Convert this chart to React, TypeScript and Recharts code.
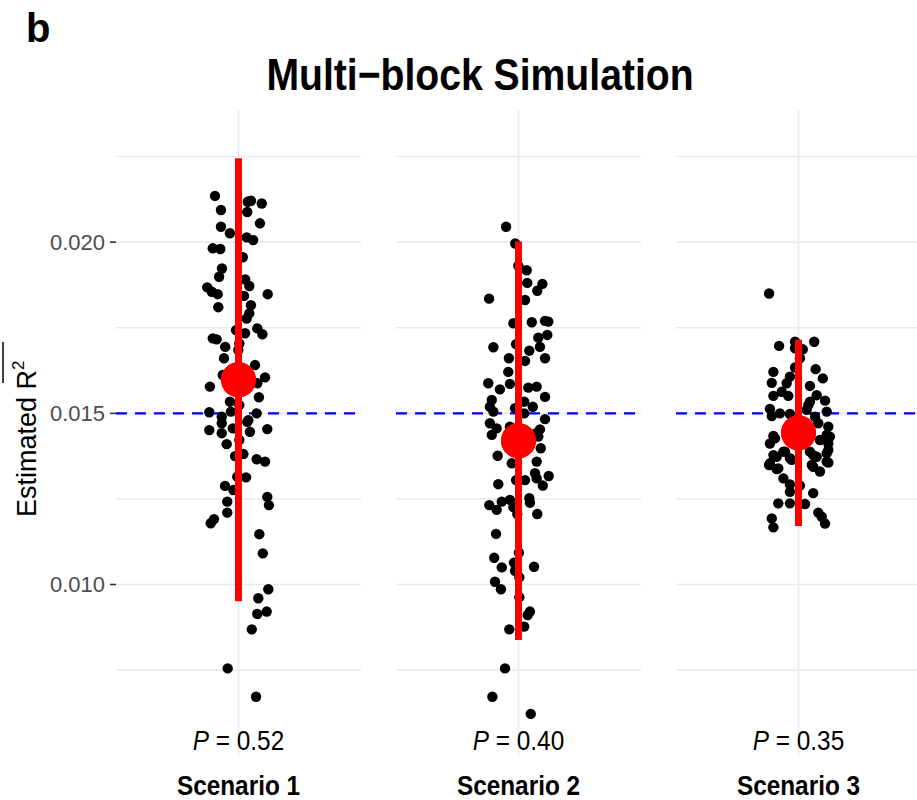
import React from 'react';
import { ScatterChart, Scatter, XAxis, YAxis, CartesianGrid, ReferenceLine, ErrorBar } from 'recharts';

// Facet labels and annotations
const scenarios = ['Scenario 1', 'Scenario 2', 'Scenario 3'];
const pValues = ['0.52', '0.40', '0.35'];

// Mean estimate and half-width of the interval for each scenario
const meanValues = [0.01598, 0.0142, 0.01443];
const intervalHalfWidths = [0.00647, 0.00582, 0.00272];

// True value (dashed line)
const trueValue = 0.015;

// Axis ticks, grid lines and range
const yTicks = [0.01, 0.015, 0.02];
const yGridValues = [0.0075, 0.01, 0.0125, 0.015, 0.0175, 0.02, 0.0225];
const xGridValues = [0];
const yDomain: [number, number] = [0.00502, 0.02386];
const xDomain: [number, number] = [-0.6, 0.6];
const pLabelLevel = 0.00546;

// Replicate estimates per scenario: [horizontal jitter, estimated value]
const scenario1Points: [number, number][] = [
  [-0.115, 0.02135], [0.045, 0.02118], [0.061, 0.02121], [0.114, 0.02113], [-0.086, 0.02094], [0.043, 0.02088],
  [0.105, 0.02055], [-0.086, 0.02045], [-0.042, 0.02026], [0.04, 0.02014], [0.072, 0.02006], [-0.126, 0.01982],
  [-0.089, 0.0198], [0.021, 0.01956], [-0.081, 0.01923], [-0.095, 0.01899], [0.033, 0.01891], [0.053, 0.01872],
  [-0.153, 0.01868], [-0.131, 0.01855], [-0.102, 0.01848], [0.143, 0.01848], [0.027, 0.01843], [-0.099, 0.0181],
  [0.061, 0.01816], [0.053, 0.01792], [0.04, 0.01777], [0.092, 0.01748], [0.117, 0.01731], [0.032, 0.01734],
  [-0.012, 0.01743], [-0.126, 0.01719], [-0.107, 0.01716], [-0.065, 0.01694], [0.004, 0.01704], [-0.001, 0.01685],
  [-0.071, 0.01661], [0.081, 0.01641], [-0.077, 0.01612], [0.13, 0.01605], [0.092, 0.01588], [-0.14, 0.01578],
  [0.1, 0.01547], [-0.042, 0.01534], [0.004, 0.01524], [-0.143, 0.01503], [0.089, 0.015], [-0.082, 0.0149],
  [-0.037, 0.01505], [0.048, 0.0148], [-0.082, 0.01471], [-0.143, 0.01451], [-0.082, 0.01442], [-0.028, 0.01456],
  [0.056, 0.01446], [0.141, 0.01454], [0.043, 0.01475], [-0.058, 0.0141], [0.004, 0.01422], [0.024, 0.01381],
  [-0.017, 0.01375], [0.089, 0.01366], [0.13, 0.01359], [-0.006, 0.01315], [0.037, 0.01313], [-0.066, 0.01288],
  [-0.025, 0.01276], [0.141, 0.01256], [0.149, 0.01232], [-0.055, 0.01242], [-0.055, 0.0121], [-0.12, 0.01191],
  [-0.136, 0.01179], [0.102, 0.01147], [0.119, 0.01091], [0.146, 0.00986], [0.097, 0.0096], [0.092, 0.00914],
  [0.138, 0.00921], [0.065, 0.00869], [-0.053, 0.00755], [0.086, 0.00672],
];

const scenario2Points: [number, number][] = [
  [-0.061, 0.02045], [-0.016, 0.01996], [-0.001, 0.01931], [0.04, 0.01918], [0.043, 0.01881], [0.117, 0.01878],
  [0.092, 0.01858], [-0.144, 0.01835], [0.032, 0.01831], [-0.025, 0.01763], [0.065, 0.01766], [0.13, 0.0177],
  [0.146, 0.01768], [0.141, 0.01729], [0.097, 0.01721], [0.105, 0.01694], [-0.123, 0.01693], [-0.012, 0.01702],
  [0.053, 0.01683], [-0.047, 0.01661], [0.032, 0.01653], [0.13, 0.01661], [-0.05, 0.01621], [-0.148, 0.01588],
  [-0.091, 0.0157], [-0.042, 0.01586], [0.048, 0.01575], [0.089, 0.01578], [0.13, 0.01548], [-0.131, 0.01539],
  [-0.14, 0.01519], [-0.123, 0.01505], [-0.017, 0.01515], [0.028, 0.01534], [0.07, 0.01519], [0.028, 0.015],
  [0.13, 0.01483], [-0.14, 0.01471], [-0.107, 0.01456], [-0.131, 0.01437], [-0.042, 0.01461], [0.105, 0.01453],
  [0.086, 0.01442], [0.097, 0.01432], [0.109, 0.01398], [-0.102, 0.01376], [-0.033, 0.01354], [0.089, 0.01359],
  [0.081, 0.01325], [0.089, 0.0131], [0.148, 0.01317], [0.119, 0.01289], [-0.012, 0.01305], [0.032, 0.01305],
  [-0.099, 0.01293], [-0.143, 0.01232], [-0.107, 0.01218], [-0.082, 0.01242], [-0.042, 0.01247], [-0.025, 0.01226],
  [-0.006, 0.01206], [0.053, 0.01252], [0.056, 0.01239], [0.092, 0.01206], [-0.11, 0.01148], [0.002, 0.01093],
  [-0.119, 0.01078], [-0.082, 0.0105], [-0.022, 0.01064], [-0.017, 0.0104], [0.004, 0.01021], [0.076, 0.01052],
  [-0.115, 0.01008], [-0.086, 0.00986], [0.004, 0.00963], [0.056, 0.00921], [0.045, 0.00911], [0.028, 0.00877],
  [-0.045, 0.00869], [-0.066, 0.00755], [-0.128, 0.00672], [0.06, 0.00622],
];

const scenario3Points: [number, number][] = [
  [-0.144, 0.0185], [-0.095, 0.01697], [-0.017, 0.01709], [0.077, 0.01709], [0.021, 0.01687], [-0.017, 0.0169],
  [0.007, 0.01661], [-0.017, 0.01634], [0.084, 0.01629], [-0.123, 0.01621], [0.119, 0.01602], [-0.042, 0.01607],
  [-0.131, 0.01589], [-0.058, 0.01588], [0.056, 0.0158], [-0.082, 0.01563], [-0.123, 0.01551], [-0.05, 0.01551],
  [0.089, 0.01553], [0.056, 0.01534], [0.13, 0.01537], [-0.14, 0.01513], [-0.091, 0.015], [-0.131, 0.01492],
  [-0.042, 0.01498], [0.081, 0.0149], [0.138, 0.01505], [0.04, 0.0151], [0.097, 0.01471], [0.146, 0.01461],
  [-0.123, 0.01434], [-0.14, 0.01412], [0.154, 0.01432], [0.146, 0.01393], [-0.066, 0.01388], [-0.107, 0.01373],
  [0.056, 0.01388], [0.089, 0.01373], [0.146, 0.01356], [-0.144, 0.01349], [-0.107, 0.01337], [-0.033, 0.01364],
  [0.072, 0.01344], [0.105, 0.0133], [-0.074, 0.0131], [-0.042, 0.01292], [0.007, 0.01289], [-0.042, 0.01271],
  [0.072, 0.01267], [-0.099, 0.01237], [-0.042, 0.01237], [0.032, 0.01235], [0.097, 0.0121], [-0.131, 0.01193],
  [0.114, 0.01198], [-0.123, 0.01167], [0.13, 0.01178], [-0.115, 0.01427], [0.138, 0.01437], [0.146, 0.01412],
  [0.105, 0.01422], [0.138, 0.01383], [-0.123, 0.01378], [-0.074, 0.01388], [-0.042, 0.01369], [0.072, 0.01378],
  [-0.14, 0.01354], [-0.099, 0.01339], [0.065, 0.01349], [0.138, 0.01359], [0.048, 0.01524],
];

const allPoints = [scenario1Points, scenario2Points, scenario3Points];

const FONT = '"Liberation Sans", Arial, Helvetica, sans-serif';
// Horizontal compression used for the condensed headings
const CONDENSE = 0.87;
const CHART_HEIGHT = 800;
const PANEL_WIDTH = 245;
const Y_AXIS_WIDTH = 116;
const X_AXIS_HEIGHT = 45;
const TOP_MARGIN = 110;
const panelLefts = [0, 396, 676];

const BlackDot = (props: any) => {
  const { cx, cy } = props;
  if (cx == null || cy == null) return null;
  return <circle cx={cx} cy={cy} r={5.2} fill="#000" />;
};

const MeanDot = (props: any) => {
  const { cx, cy } = props;
  if (cx == null || cy == null) return null;
  return <circle cx={cx} cy={cy} r={17.5} fill="#ff0000" />;
};

const makePLabel = (p: string) => (props: any) => {
  const { cx, cy } = props;
  if (cx == null || cy == null) return null;
  return (
    <text
      transform={`translate(${cx},${cy}) scale(${CONDENSE},1)`}
      dy="0.36em"
      textAnchor="middle"
      fontFamily={FONT}
      fontSize={28}
      fill="#000"
    >
      <tspan fontStyle="italic">P</tspan>
      <tspan> = {p}</tspan>
    </text>
  );
};

const YTick = (props: any) => {
  const { y, payload } = props;
  const v = payload.value;
  const isMajor = yTicks.some((t) => Math.abs(t - v) < 1e-9);
  if (!isMajor) return null;
  return (
    <g>
      <line x1={Y_AXIS_WIDTH - 6} x2={Y_AXIS_WIDTH} y1={y} y2={y} stroke="#333333" strokeWidth={1.6} />
      <text x={Y_AXIS_WIDTH - 11} y={y} dy="0.36em" textAnchor="end" fontFamily={FONT} fontSize={22} fill="#4d4d4d">
        {v.toFixed(3)}
      </text>
    </g>
  );
};

const makeXTick = (name: string) => (props: any) => {
  const { x, y } = props;
  return (
    <text
      transform={`translate(${x},${y + 40}) scale(${CONDENSE},1)`}
      textAnchor="middle"
      fontFamily={FONT}
      fontSize={28}
      fontWeight="bold"
      fill="#000"
    >
      {name}
    </text>
  );
};

// Grid lines placed through the axis scales
const scaleOf = (axis: any) => (typeof axis?.scale === 'function' ? axis.scale : null);
const gridRows = ({ yAxis, offset }: any) => {
  const s = scaleOf(yAxis);
  return yGridValues.map((v) =>
    s ? s(v) : offset.top + ((yDomain[1] - v) / (yDomain[1] - yDomain[0])) * offset.height,
  );
};
const gridColumns = ({ xAxis, offset }: any) => {
  const s = scaleOf(xAxis);
  return xGridValues.map((v) =>
    s ? s(v) : offset.left + ((v - xDomain[0]) / (xDomain[1] - xDomain[0])) * offset.width,
  );
};

function Panel({ index }: { index: number }) {
  const withAxis = index === 0;
  const points = allPoints[index].map(([x, y]) => ({ x, y }));
  const labelData = [{ x: 0, y: pLabelLevel }];
  const width = withAxis ? Y_AXIS_WIDTH + PANEL_WIDTH : PANEL_WIDTH;
  return (
    <div style={{ position: 'absolute', left: panelLefts[index], top: 0, width, height: CHART_HEIGHT }}>
      <ScatterChart width={width} height={CHART_HEIGHT} margin={{ top: TOP_MARGIN, right: 0, bottom: 0, left: 0 }}>
        <CartesianGrid
          stroke="#ebebeb"
          strokeWidth={1.6}
          fill="none"
          horizontalCoordinatesGenerator={gridRows}
          verticalCoordinatesGenerator={gridColumns}
        />
        <XAxis
          type="number"
          dataKey="x"
          domain={xDomain}
          allowDataOverflow
          ticks={xGridValues}
          axisLine={false}
          tickLine={false}
          tickSize={0}
          tickMargin={0}
          height={X_AXIS_HEIGHT}
          interval={0}
          tick={makeXTick(scenarios[index])}
        />
        <YAxis
          type="number"
          dataKey="y"
          domain={yDomain}
          allowDataOverflow
          ticks={yGridValues}
          interval={0}
          hide={!withAxis}
          width={withAxis ? Y_AXIS_WIDTH : 0}
          axisLine={false}
          tickLine={false}
          tick={<YTick />}
        />
        <ReferenceLine y={trueValue} stroke="#0000ff" strokeWidth={2.4} strokeDasharray="11 8" />
        <Scatter data={points} shape={BlackDot} isAnimationActive={false} />
        <Scatter data={labelData} shape={makePLabel(pValues[index])} isAnimationActive={false} />
      </ScatterChart>
    </div>
  );
}

// Mean and interval, drawn on a matching chart stacked above the replicate points
function IntervalLayer({ index }: { index: number }) {
  const withAxis = index === 0;
  const width = withAxis ? Y_AXIS_WIDTH + PANEL_WIDTH : PANEL_WIDTH;
  const meanData = [{ x: 0, y: meanValues[index], err: intervalHalfWidths[index] }];
  return (
    <div style={{ position: 'absolute', left: panelLefts[index], top: 0, width, height: CHART_HEIGHT }}>
      <ScatterChart
        width={width}
        height={CHART_HEIGHT}
        margin={{ top: TOP_MARGIN, right: 0, bottom: X_AXIS_HEIGHT, left: withAxis ? Y_AXIS_WIDTH : 0 }}
      >
        <XAxis type="number" dataKey="x" domain={xDomain} allowDataOverflow hide />
        <YAxis type="number" dataKey="y" domain={yDomain} allowDataOverflow hide />
        <Scatter data={meanData} shape={MeanDot} isAnimationActive={false}>
          <ErrorBar dataKey="err" direction="y" width={0} stroke="#ff0000" strokeWidth={7} isAnimationActive={false} />
        </Scatter>
        <Scatter data={meanData} shape={MeanDot} isAnimationActive={false} />
      </ScatterChart>
    </div>
  );
}

export default function App() {
  return (
    <div
      style={{
        position: 'absolute',
        left: 0,
        top: 0,
        width: 917,
        height: 800,
        overflow: 'hidden',
        background: '#fff',
        fontFamily: FONT,
      }}
    >
      {[0, 1, 2].map((i) => (
        <Panel key={`p${i}`} index={i} />
      ))}
      {[0, 1, 2].map((i) => (
        <IntervalLayer key={`m${i}`} index={i} />
      ))}
      <svg width={917} height={800} style={{ position: 'absolute', left: 0, top: 0, pointerEvents: 'none' }}>
        <text x={26} y={42} fontFamily={FONT} fontSize={40} fontWeight="bold" fill="#000">
          b
        </text>
        <text
          transform={`translate(480,90) scale(${CONDENSE},1)`}
          textAnchor="middle"
          fontFamily={FONT}
          fontSize={45}
          fontWeight="bold"
          fill="#000"
        >
          Multi−block Simulation
        </text>
        <g transform="translate(36, 517) rotate(-90)">
          <text x={0} y={0} fontFamily={FONT} fontSize={27} fill="#000">
            Estimated R
            <tspan dy={-12} fontSize={17}>
              2
            </tspan>
          </text>
          <line x1={134} x2={175} y1={-33} y2={-33} stroke="#000" strokeWidth={1.5} />
        </g>
      </svg>
    </div>
  );
}
